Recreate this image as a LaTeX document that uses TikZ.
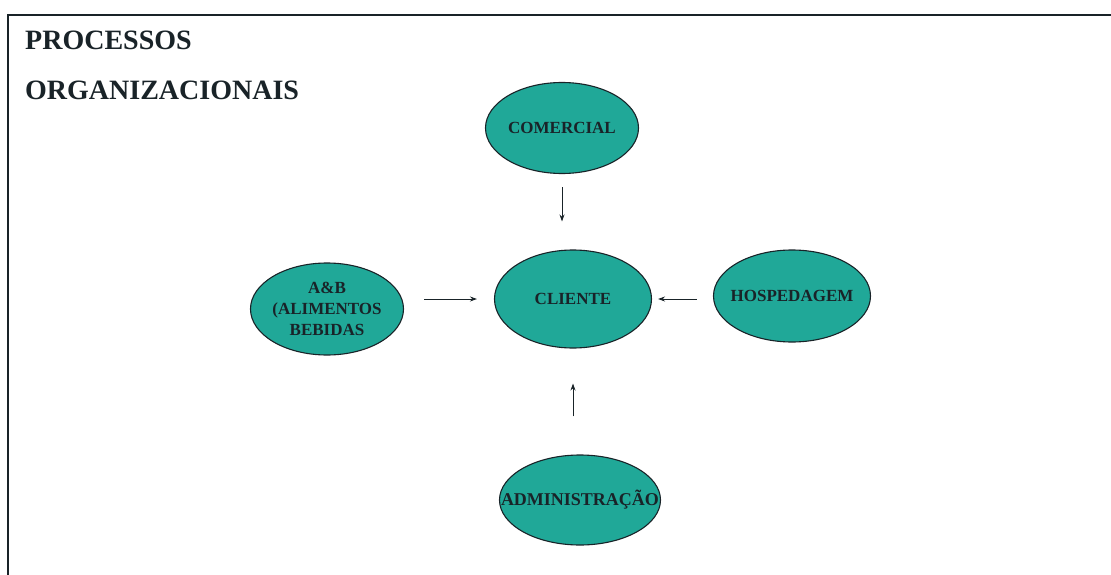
\documentclass[tikz,border=0pt]{standalone}
\usepackage{fontspec}
\setmainfont{Liberation Serif}
\usetikzlibrary{shapes.geometric,arrows.meta}
\definecolor{tealfill}{RGB}{32,168,152}
\definecolor{inkdark}{RGB}{25,35,40}
\tikzset{
  proc/.style={ellipse, draw=inkdark, line width=1.1pt, fill=tealfill, inner sep=0pt},
  proctext/.style={font=\bfseries\fontsize{17}{21}\selectfont, text=inkdark, align=center, inner sep=0pt},
  widetext/.style={proctext, font=\bfseries\fontsize{18}{21}\selectfont},
  arr/.style={draw=inkdark, line width=1pt, -{Stealth[length=7pt,width=5pt]}},
  title/.style={font=\bfseries\fontsize{28}{34}\selectfont, text=inkdark, anchor=base west, inner sep=0pt},
  frame/.style={draw=inkdark, line width=1.2pt}
}
\begin{document}
\begin{tikzpicture}[x=1pt,y=-1pt]
  \useasboundingbox (0,0) rectangle (1111,575);
  \fill[white] (0,0) rectangle (1111,575);

  % open frame: top and left edges
  \draw[frame] (8,575) -- (8,15) -- (1111,15);

  % heading
  \node[title] (t1) at (25,50) {PROCESSOS};
  \node[title] (t2) at (25,100) {ORGANIZACIONAIS};

  % process ellipses
  \node[proc, minimum width=153pt, minimum height=91pt,
        label={[proctext, name=comercialtxt]center:COMERCIAL}] (comercial) at (562,128) {};
  \node[proc, minimum width=157pt, minimum height=98pt,
        label={[proctext, name=clientetxt]center:CLIENTE}] (cliente) at (573,299) {};
  \node[proc, minimum width=153pt, minimum height=92pt,
        label={[proctext, name=abtxt]center:A\&B\\(ALIMENTOS\\BEBIDAS}] (ab) at (327,309) {};
  \node[proc, minimum width=157pt, minimum height=92pt,
        label={[proctext, name=hosptxt]center:HOSPEDAGEM}] (hosp) at (792,296) {};
  \node[proc, minimum width=161pt, minimum height=90pt,
        label={[widetext, name=admintxt]center:ADMINISTRAÇÃO}] (admin) at (580,500) {};

  % flows into the client
  \draw[arr, shorten <=13pt, shorten >=28pt] (comercial.south) -- (comercial.south |- cliente.north);
  \draw[arr, shorten <=20pt, shorten >=17pt] (ab.east |- cliente.center) -- (cliente.west);
  \draw[arr, shorten <=16pt, shorten >=6pt] (hosp.west |- cliente.center) -- (cliente.east);
  \draw[arr, shorten <=38pt, shorten >=35pt] (cliente.south |- admin.north) -- (cliente.south);
\end{tikzpicture}
\end{document}
